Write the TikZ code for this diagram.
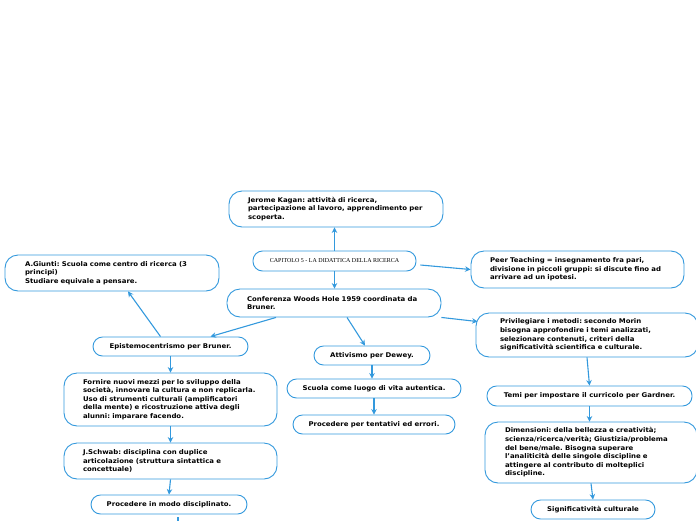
\documentclass[tikz,border=0pt]{standalone}
\usepackage{fontspec}
\setmainfont{DejaVu Sans}[FakeStretch=1.07]
\newfontfamily\capfont{Liberation Serif}
\usetikzlibrary{arrows.meta}
\definecolor{lineblue}{HTML}{3399DD}
\frenchspacing
\tikzset{
  box/.style={draw=lineblue, line width=0.9pt, rounded corners=13pt, fill=white,
    font=\fontsize{6.5}{8.6}\selectfont\bfseries, text=black, inner ysep=2pt},
  lbox/.style={box, align=left},
  cbox/.style={box, align=center, rounded corners=9.5pt, inner xsep=4pt},
  conn/.style={draw=lineblue, line width=1.1pt, -{Stealth[length=5.5pt,width=5.5pt]}},
}
\begin{document}
\begin{tikzpicture}[x=1pt,y=-1pt]
\useasboundingbox (0,0) rectangle (696,520);

\node[lbox, minimum width=214pt, minimum height=36pt, inner xsep=19pt, text width=176pt] (kagan) at (336,209)
  {Jerome Kagan: attività di ricerca,\\partecipazione al lavoro, apprendimento per\\scoperta.};
\node[cbox, minimum width=163pt, minimum height=20pt, font=\capfont\fontsize{6}{7}\selectfont] (cap) at (334.5,261)
  {CAPITOLO 5 - LA DIDATTICA DELLA RICERCA};
\node[lbox, minimum width=214pt, minimum height=28pt, inner xsep=20pt, text width=174pt] (conf) at (334,303)
  {Conferenza Woods Hole 1959 coordinata da\\Bruner.};
\node[lbox, minimum width=214pt, minimum height=36pt, inner xsep=20pt, text width=174pt] (giunti) at (112,273)
  {A.Giunti: Scuola come centro di ricerca (3\\principi)\\Studiare equivale a pensare.};
\node[lbox, minimum width=213pt, minimum height=37pt, inner xsep=19pt, text width=175pt] (peer) at (577.5,269.5)
  {Peer Teaching = insegnamento fra pari,\\divisione in piccoli gruppi: si discute fino ad\\arrivare ad un ipotesi.};
\node[lbox, minimum width=222pt, minimum height=44pt, inner xsep=24pt, text width=174pt] (priv) at (587,335)
  {Privilegiare i metodi: secondo Morin\\bisogna approfondire i temi analizzati,\\selezionare contenuti, criteri della\\significatività scientifica e culturale.};
\node[cbox, minimum width=155pt, minimum height=19pt] (epi) at (170.5,346.5) {Epistemocentrismo per Bruner.};
\node[cbox, minimum width=116pt, minimum height=19pt] (att) at (372,355.5) {Attivismo per Dewey.};
\node[cbox, minimum width=174pt, minimum height=19pt] (scuola) at (374,388.5) {Scuola come luogo di vita autentica.};
\node[cbox, minimum width=162pt, minimum height=19pt] (proc) at (374,424.5) {Procedere per tentativi ed errori.};
\node[cbox, minimum width=205pt, minimum height=20pt] (temi) at (589.5,396) {Temi per impostare il curricolo per Gardner.};
\node[lbox, minimum width=213pt, minimum height=53pt, inner xsep=19pt, text width=175pt] (fornire) at (170.5,399.5)
  {Fornire nuovi mezzi per lo sviluppo della\\società, innovare la cultura e non replicarla.\\Uso di strumenti culturali (amplificatori\\della mente) e ricostruzione attiva degli\\alunni: imparare facendo.};
\node[lbox, minimum width=213pt, minimum height=36pt, inner xsep=19pt, text width=175pt] (schwab) at (170.5,461)
  {J.Schwab: disciplina con duplice\\articolazione (struttura sintattica e\\concettuale)};
\node[cbox, minimum width=156pt, minimum height=19pt] (procmod) at (169,504.5) {Procedere in modo disciplinato.};
\node[lbox, minimum width=212pt, minimum height=61pt, inner xsep=20pt, text width=172pt] (dim) at (591,452.5)
  {Dimensioni: della bellezza e creatività;\\scienza/ricerca/verità; Giustizia/problema\\del bene/male. Bisogna superare\\l'analiticità delle singole discipline e\\attingere al contributo di molteplici\\discipline.};
\node[cbox, minimum width=124pt, minimum height=19pt] (sig) at (593,509.5) {Significatività culturale};

\coordinate (stubtop) at (178,517);
\coordinate (stubbot) at (178,524);

\draw[conn] (cap.north) -- (cap.north |- kagan.south);
\draw[conn] (cap.south) -- (cap.south |- conf.north);
\draw[conn] ([shift={(4pt,-4pt)}]cap.east) -- (peer.west);
\draw[conn] ([xshift=-58pt]conf.south) -- ([xshift=40pt]epi.north);
\draw[conn] ([xshift=13pt]conf.south) -- ([xshift=-7pt]att.north);
\draw[conn] (conf.south east) -- ([shift={(2pt,-9pt)}]priv.north west);
\draw[conn] ([xshift=-10pt]epi.north) -- ([xshift=16pt]giunti.south);
\draw[conn] (epi.south) -- (fornire.north);
\draw[conn] (fornire.south) -- (schwab.north);
\draw[conn] (schwab.south) -- (procmod.north);
\draw[conn] (att.south) -- (att.south |- scuola.north);
\draw[conn] (scuola.south) -- (proc.north);
\draw[conn] (priv.south) -- (temi.north);
\draw[conn] (temi.south) -- (temi.south |- dim.north);
\draw[conn] (dim.south) -- (sig.north);
\draw[draw=lineblue, line width=1.1pt] (stubtop) -- (stubbot);
\end{tikzpicture}
\end{document}
